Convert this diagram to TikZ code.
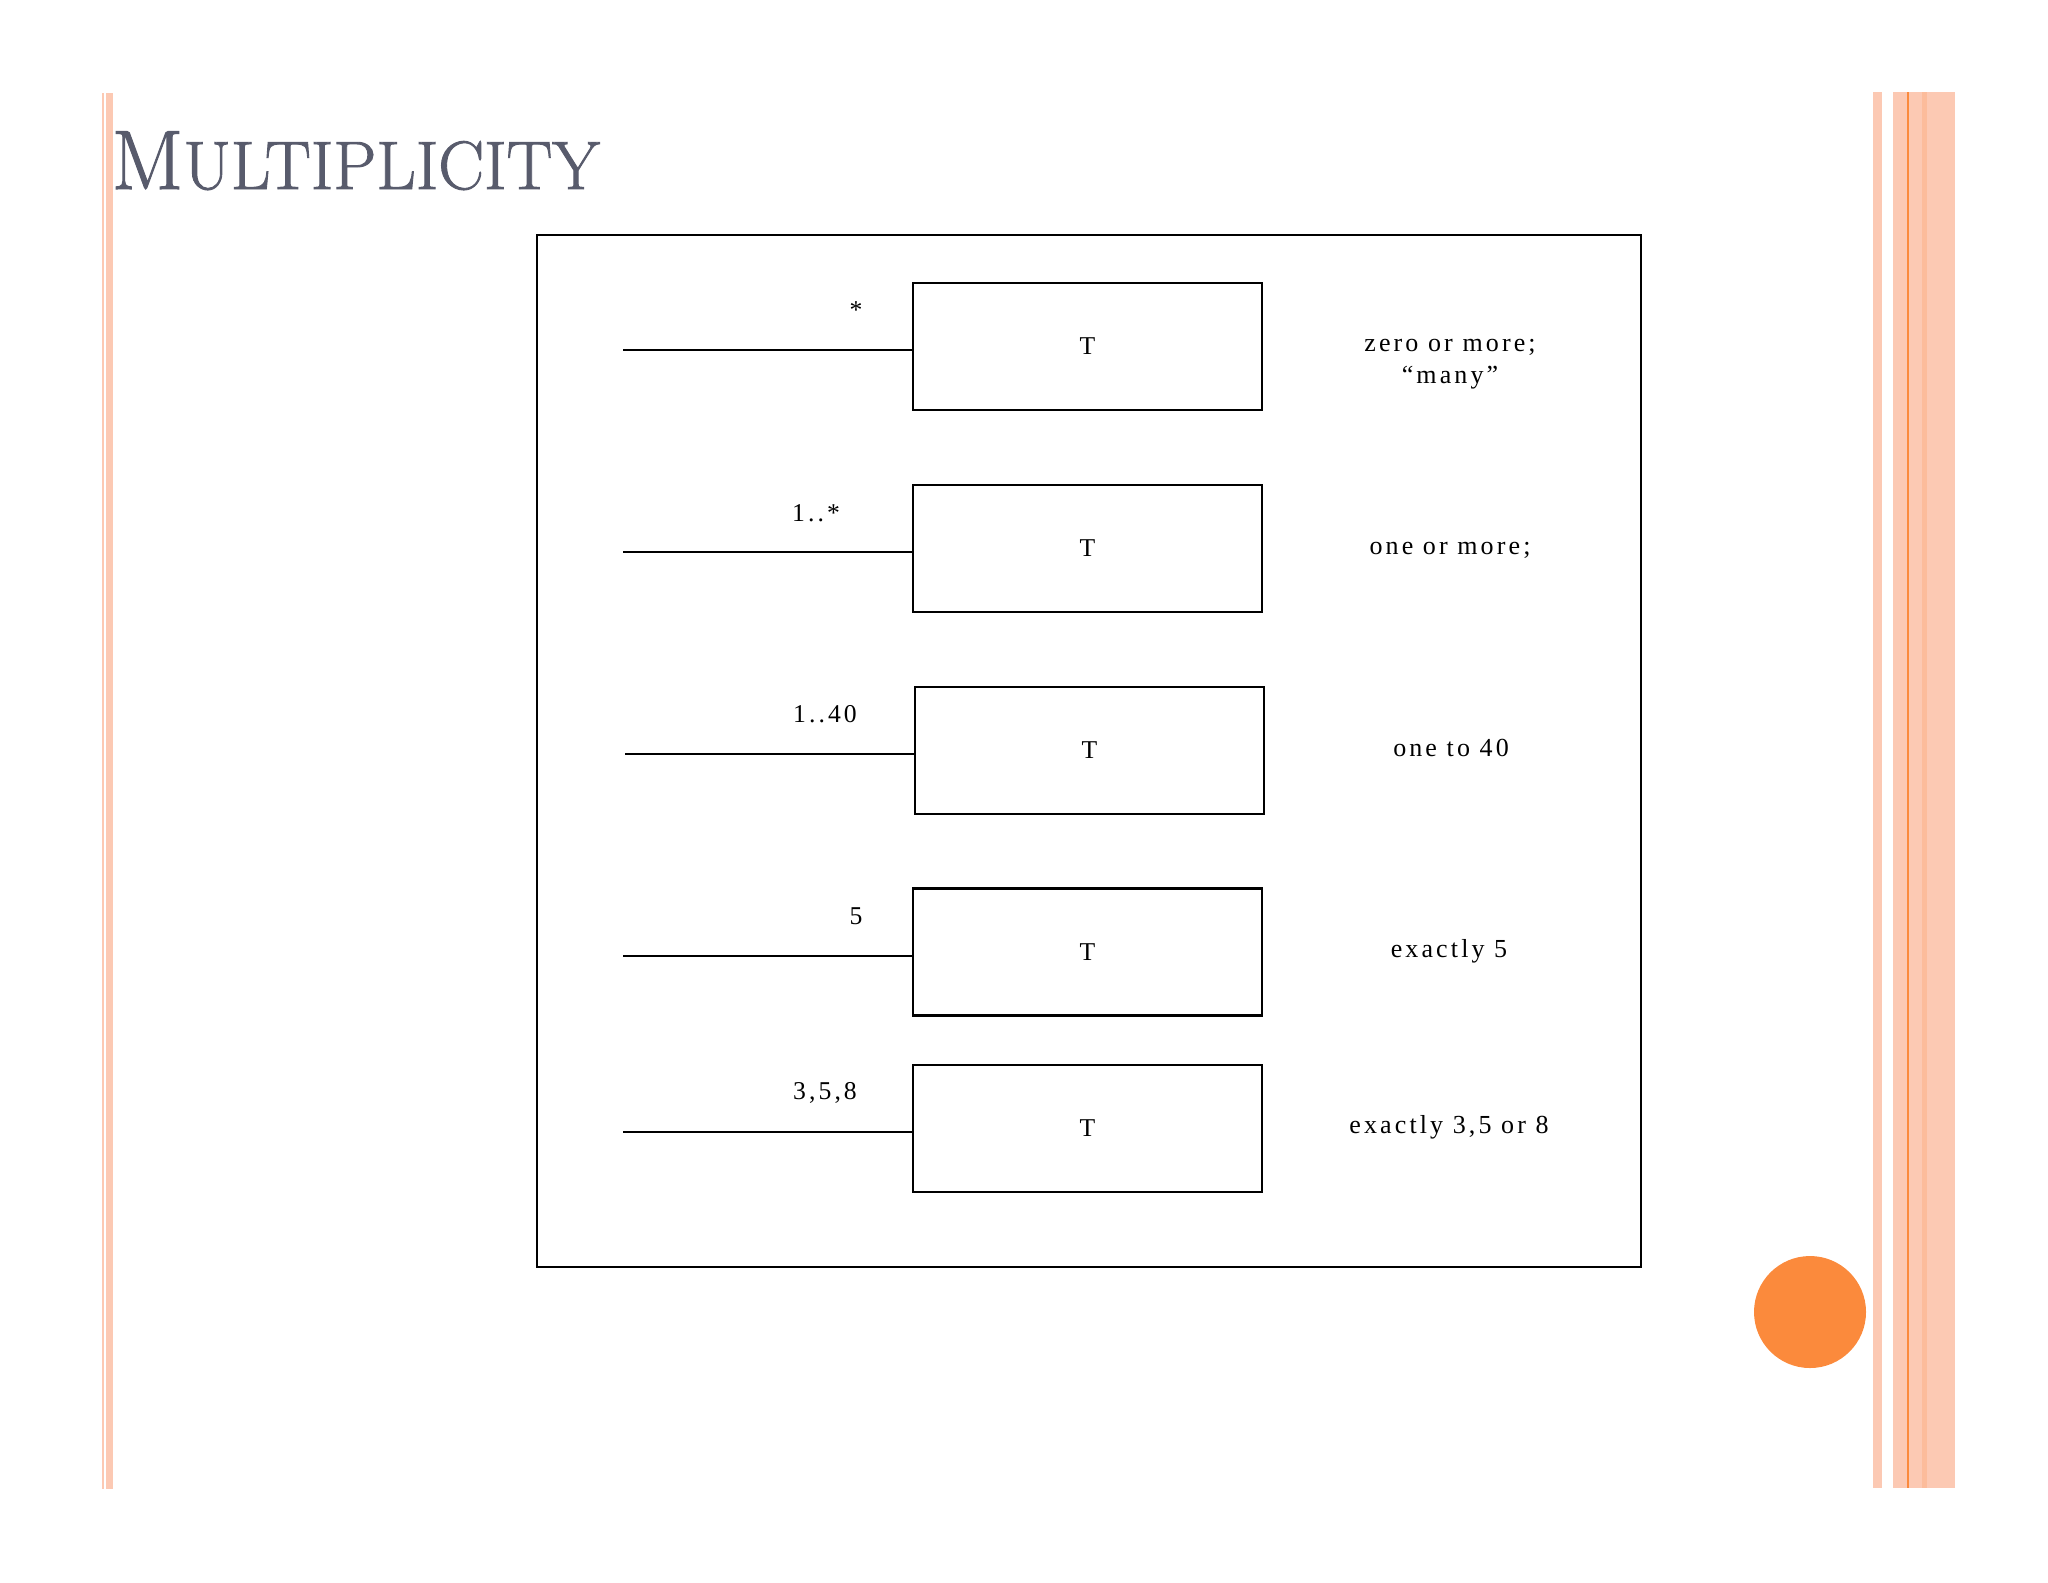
\documentclass[tikz,border=0pt]{standalone}
\usepackage{fontspec}
\usetikzlibrary{positioning}
\newfontfamily\umlfont[LetterSpace=12]{Liberation Serif}
\newfontfamily\titlefont[FakeBold=1.3]{Latin Modern Roman}
\definecolor{titlegray}{HTML}{585B6C}
\definecolor{barpeach}{HTML}{FCC9B3}
\definecolor{barorange}{HTML}{FB8A3C}

\begin{document}
\begin{tikzpicture}[
    x=0.1mm, y=-0.1mm,
    tbox/.style={draw=black, line width=0.6pt, minimum width=34.9mm,
        minimum height=12.7mm, inner sep=0pt,
        font=\umlfont\fontsize{7.3}{9}\selectfont},
    mult/.style={inner sep=0pt, font=\umlfont\fontsize{7.3}{9}\selectfont},
    desc/.style={inner sep=0pt, align=center,
        font=\umlfont\fontsize{7.4}{9.2}\selectfont},
    assoc/.style={line width=0.6pt}]
    \useasboundingbox (0,0) rectangle (2048,1582);

    % DECORATION
    % left bars
    \fill[barpeach] (102,93) rectangle (104,1489);
    \fill[barpeach] (106,93) rectangle (113,1489);
    % right bars
    \fill[barpeach] (1873,92) rectangle (1882,1488);
    \fill[barpeach] (1893,92) rectangle (1955,1488);
    \fill[barpeach!80!barorange] (1922,92) rectangle (1927,1488);
    \fill[barorange] (1907,92) rectangle (1909,1488);
    % dot
    \node[circle, fill=barorange, minimum size=11.2mm, inner sep=0pt] (dot) at (1810,1312) {};
    % title
    \node[anchor=base west, inner sep=0pt, text=titlegray] (title) at (111,189)
        {\titlefont\fontsize{24}{28}\selectfont M\fontsize{19.5}{24}\selectfont ULTIPLICITY};

    % FRAME
    \node[draw=black, line width=0.5pt, minimum width=110.4mm, minimum height=103.2mm,
        inner sep=0pt] (frame) at (1089,751) {};

    % NODES
    % class boxes
    \node[tbox] (T1) at (1087.5,346.5) {T};
    \node[tbox] (T2) at (1087.5,548.5) {T};
    \node[tbox] (T3) at (1089.5,750.5) {T};
    \node[tbox] (T4) at (1087.5,952) {T};
    \node[tbox] (T5) at (1087.5,1128.5) {T};
    % line ends
    \coordinate (E1) at (623,350);
    \coordinate (E2) at (623,552);
    \coordinate (E3) at (625,754);
    \coordinate (E4) at (623,956);
    \coordinate (E5) at (623,1132);
    % multiplicities
    \node[mult] (M1) at (856,310) {*};
    \node[mult] (M2) at (816,513) {1..*};
    \node[mult] (M3) at (825,714) {1..40};
    \node[mult] (M4) at (856,916) {5};
    \node[mult] (M5) at (825,1093) {3,5,8};
    % meanings
    \node[desc] (D1) at (1450,364) {zero or more;\\“many”};
    \node[desc] (D2) at (1450,550) {one or more;};
    \node[desc] (D3) at (1451,748) {one to 40};
    \node[desc] (D4) at (1449,951) {exactly 5};
    \node[desc] (D5) at (1449,1127) {exactly 3,5 or 8};

    % LINES
    \draw[assoc] (E1) -- (E1 -| T1.west);
    \draw[assoc] (E2) -- (E2 -| T2.west);
    \draw[assoc] (E3) -- (E3 -| T3.west);
    \draw[assoc] (E4) -- (E4 -| T4.west);
    \draw[assoc] (E5) -- (E5 -| T5.west);
\end{tikzpicture}
\end{document}
